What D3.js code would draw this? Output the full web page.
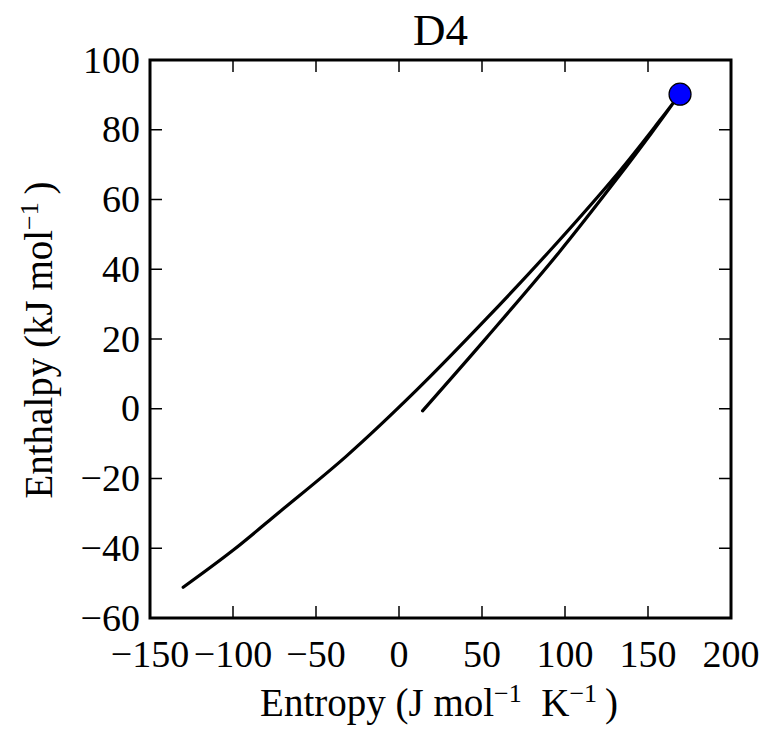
<!DOCTYPE html>
<html>
<head>
<meta charset="utf-8">
<script src="https://cdn.jsdelivr.net/npm/d3@7"></script>
<style>
  body { margin: 0; background: #fff; }
  text { font-family: "Liberation Serif", "DejaVu Serif", serif; fill: #000; }
</style>
</head>
<body>
<svg id="chart" width="763" height="732"></svg>
<script>
// path traced out by the system (entropy, enthalpy), forward then back
const entropy  = [-130, -100, -72, -31.5, 10.7, 52.8, 91.4, 133, 158, 169.3, 152, 133, 96, 52.8, 14.2];
const enthalpy = [-51.2, -40.6, -29.6, -13.5, 5.4, 25.9, 45.6, 68.2, 83.2, 90.2, 79, 67, 44.6, 20.4, -0.6];
const marker = {entropy: 169.3, enthalpy: 90.2};

const xTicks = [-150, -100, -50, 0, 50, 100, 150, 200];
const yTicks = [-60, -40, -20, 0, 20, 40, 60, 80, 100];
const title = "D4";

let chart = d3.select("#chart");
let m_left = 150, m_right = 731, m_top = 60, m_bottom = 618;

// scales
let x = d3.scaleLinear().domain([-150, 200]).range([m_left, m_right]);
let y = d3.scaleLinear().domain([-60, 100]).range([m_bottom, m_top]);

let points = entropy.map((e, i) => [e, enthalpy[i]]);

// curve
chart.append("path")
    .datum(points)
    .attr("fill", "none")
    .attr("stroke", "#000")
    .attr("stroke-width", 3.2)
    .attr("stroke-linecap", "round")
    .attr("stroke-linejoin", "round")
    .attr("d", d3.line()
        .x(d => x(d[0]))
        .y(d => y(d[1]))
        .curve(d3.curveCatmullRom.alpha(0.5)));

// end marker
chart.append("circle")
    .attr("cx", x(marker.entropy))
    .attr("cy", y(marker.enthalpy))
    .attr("r", 11)
    .attr("fill", "#0000ff")
    .attr("stroke", "#000")
    .attr("stroke-width", 1.2);

// ticks inward on all four sides
let tickLen = 12;
let ticks = chart.append("g").attr("stroke", "#000").attr("stroke-width", 1.5);
xTicks.forEach(t => {
    ticks.append("line").attr("x1", x(t)).attr("x2", x(t)).attr("y1", m_bottom).attr("y2", m_bottom - tickLen);
    ticks.append("line").attr("x1", x(t)).attr("x2", x(t)).attr("y1", m_top).attr("y2", m_top + tickLen);
});
yTicks.forEach(t => {
    ticks.append("line").attr("y1", y(t)).attr("y2", y(t)).attr("x1", m_left).attr("x2", m_left + tickLen);
    ticks.append("line").attr("y1", y(t)).attr("y2", y(t)).attr("x1", m_right).attr("x2", m_right - tickLen);
});

// frame
chart.append("rect")
    .attr("x", m_left).attr("y", m_top)
    .attr("width", m_right - m_left).attr("height", m_bottom - m_top)
    .attr("fill", "none").attr("stroke", "#000").attr("stroke-width", 3);

let fmt = d3.format("d");
// x tick labels
chart.append("g").selectAll("text").data(xTicks).join("text")
    .attr("x", d => x(d))
    .attr("y", 667)
    .attr("text-anchor", "middle")
    .style("font-size", "38px")
    .text(d => fmt(d));
// y tick labels
chart.append("g").selectAll("text").data(yTicks).join("text")
    .attr("x", m_left - 10)
    .attr("y", d => y(d))
    .attr("dy", "0.33em")
    .attr("text-anchor", "end")
    .style("font-size", "38px")
    .text(d => fmt(d));

// title
chart.append("text")
    .attr("x", (m_left + m_right) / 2)
    .attr("y", 45)
    .attr("text-anchor", "middle")
    .style("font-size", "45px")
    .text(title);

// x label
let xl = chart.append("text")
    .attr("x", 439)
    .attr("y", 716)
    .attr("text-anchor", "middle")
    .style("font-size", "39px");
xl.append("tspan").text("Entropy (J mol");
xl.append("tspan").attr("baseline-shift", "super").style("font-size", "26px").text("\u22121");
xl.append("tspan").text("\u2002K");
xl.append("tspan").attr("baseline-shift", "super").style("font-size", "26px").text("\u22121");
xl.append("tspan").text("\u2009)");

// y label
let yl = chart.append("text")
    .attr("transform", "translate(52,340) rotate(-90)")
    .attr("text-anchor", "middle")
    .style("font-size", "39px");
yl.append("tspan").text("Enthalpy (kJ mol");
yl.append("tspan").attr("baseline-shift", "super").style("font-size", "26px").text("\u22121");
yl.append("tspan").text("\u2009)");
</script>
</body>
</html>
